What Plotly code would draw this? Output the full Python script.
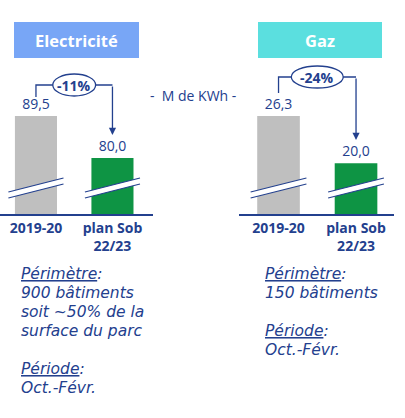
import plotly.graph_objects as go

periods = ["2019-20", "plan Sob<br>22/23"]
elec_values = [89.5, 80.0]
gaz_values = [26.3, 20.0]
elec_change = "-11%"
gaz_change = "-24%"
panel_titles = ["Electricité", "Gaz"]
unit_label = "-  M de KWh -"
elec_notes = ["<u>Périmètre</u>:", "900 bâtiments", "soit ~50% de la",
              "surface du parc", "", "<u>Période</u>:", "Oct.-Févr."]
gaz_notes = ["<u>Périmètre</u>:", "150 bâtiments", "", "<u>Période</u>:", "Oct.-Févr."]

W, H = 405, 418
NAVY = "#23408E"
GREY = "#BFBFBF"
GREEN = "#0E9444"
FONT = "Open Sans"


def X(px):
    return px / W


def Y(py):
    return 1 - py / H


fig = go.Figure()
for i, vals in enumerate([elec_values, gaz_values]):
    fig.add_trace(go.Bar(
        x=periods, y=vals, base=0,
        xaxis="x" if i == 0 else "x2", yaxis="y" if i == 0 else "y2",
        marker_color=[GREY, GREEN], marker_line_width=0,
        width=0.55,
        texttemplate="%{y:.1f}", textposition="outside", cliponaxis=False,
        textfont=dict(family=FONT, size=14, color=NAVY),
        showlegend=False, hoverinfo="skip",
    ))

axis_common = dict(showline=True, linecolor=NAVY, linewidth=1.5, ticks="",
                   showgrid=False, zeroline=False, fixedrange=True,
                   tickfont=dict(family=FONT, size=14, color=NAVY))
ydom = [Y(214), Y(60)]
fig.update_layout(
    width=W, height=H, margin=dict(l=0, r=0, t=0, b=0),
    paper_bgcolor="white", plot_bgcolor="rgba(0,0,0,0)",
    separators=", ",
    xaxis=dict(domain=[0, X(153)], range=[-0.47, 1.53], anchor="y", **axis_common),
    xaxis2=dict(domain=[X(239), X(394)], range=[-0.51, 1.49], anchor="y2", **axis_common),
    yaxis=dict(domain=ydom, range=[67.3, 102.2], visible=False, fixedrange=True),
    yaxis2=dict(domain=ydom, range=[13.2, 33.8], visible=False, fixedrange=True),
)
fig.update_xaxes(tickprefix="<b>", ticksuffix="</b>")

shapes = []
annotations = []
mid = dict(xanchor="center", yanchor="middle", showarrow=False)

# cadres de titre
for (x0, x1, col), title in zip([(14, 139, "#78A6F6"), (258, 382, "#5BDFDF")], panel_titles):
    shapes.append(dict(type="rect", xref="paper", yref="paper",
                       x0=X(x0), x1=X(x1), y0=Y(58), y1=Y(22),
                       fillcolor=col, line_width=0, layer="below"))
    annotations.append(dict(x=X((x0 + x1) / 2), y=Y(40), xref="paper", yref="paper",
                            text=f"<b>{title}</b>",
                            font=dict(family=FONT, size=16.5, color="white"), **mid))

# accolades et variations
for ax, change, y_left, y_top, y_tip, ew in [("x", elec_change, 97, 85, 135, 0.56),
                                             ("x2", gaz_change, 93, 77, 140, 0.67)]:
    shapes.append(dict(type="path", xref=ax, yref="paper",
                       path=f"M 0,{Y(y_left)} L 0,{Y(y_top)} L 1,{Y(y_top)}",
                       line=dict(color=NAVY, width=1.3)))
    annotations.append(dict(x=1, y=Y(y_tip), xref=ax, yref="paper", text="",
                            showarrow=True, arrowhead=2, arrowsize=1.1, arrowwidth=1.3,
                            arrowcolor=NAVY, ax=0, ay=-(y_tip - y_top)))
    shapes.append(dict(type="circle", xref=ax, yref="paper",
                       x0=0.5 - ew / 2, x1=0.5 + ew / 2,
                       y0=Y(y_top + 11), y1=Y(y_top - 11),
                       fillcolor="white", line=dict(color=NAVY, width=1.3)))
    annotations.append(dict(x=0.5, y=Y(y_top), xref=ax, yref="paper",
                            text=f"<b>{change}</b>",
                            font=dict(family=FONT, size=14, color=NAVY), **mid))

# marques de rupture d'axe
for ax in ["x", "x2"]:
    for xc in [0, 1]:
        x0, x1 = xc - 0.36, xc + 0.36
        yl, yr = 195, 181
        band = (f"M {x0},{Y(yl - 3)} L {x1},{Y(yr - 3)} L {x1},{Y(yr + 3)} "
                f"L {x0},{Y(yl + 3)} Z")
        shapes.append(dict(type="path", xref=ax, yref="paper", path=band,
                           fillcolor="white", line_width=0))
        for d in (-3, 3):
            shapes.append(dict(type="line", xref=ax, yref="paper",
                               x0=x0, y0=Y(yl + d), x1=x1, y1=Y(yr + d),
                               line=dict(color=NAVY, width=1.2)))

annotations.append(dict(x=X(193), y=Y(95), xref="paper", yref="paper", text=unit_label,
                        font=dict(family=FONT, size=14, color=NAVY), **mid))

# notes
for x_px, notes in [(19, elec_notes), (263, gaz_notes)]:
    for k, line in enumerate(notes):
        if not line:
            continue
        annotations.append(dict(x=X(x_px), y=Y(274 + 19 * k), xref="paper", yref="paper",
                                text=f"<i>{line}</i>", showarrow=False,
                                xanchor="left", yanchor="middle",
                                font=dict(family="DejaVu Sans", size=15.5, color=NAVY)))

fig.update_layout(shapes=shapes, annotations=annotations)
fig.write_html("out.html", config={"displayModeBar": False},
               post_script="document.body.style.margin='0px';")
